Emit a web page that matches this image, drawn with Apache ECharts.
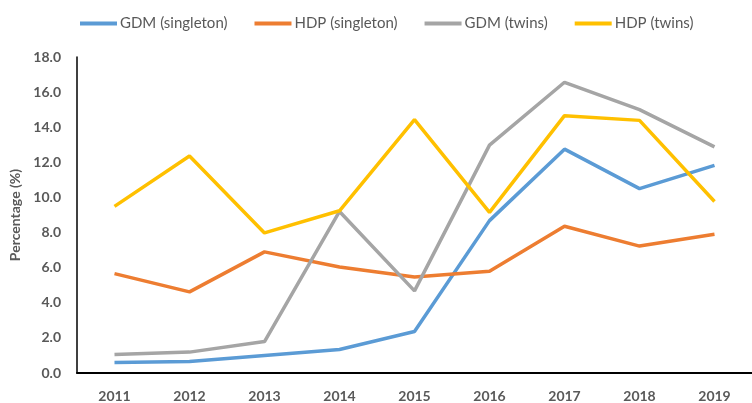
<!DOCTYPE html>
<html>
<head>
<meta charset="utf-8">
<script src="https://cdn.jsdelivr.net/npm/echarts@6/dist/echarts.min.js"></script>
<style>html,body{margin:0;padding:0;background:#fff}#c{width:752px;height:403px}</style>
</head>
<body>
<div id="c"></div>
<script>
var years = ['2011','2012','2013','2014','2015','2016','2017','2018','2019'];
var gdmSingleton = [0.6, 0.65, 1.0, 1.34, 2.36, 8.68, 12.75, 10.5, 11.83];
var hdpSingleton = [5.66, 4.62, 6.9, 6.04, 5.47, 5.8, 8.36, 7.23, 7.9];
var gdmTwins = [1.06, 1.19, 1.79, 9.2, 4.68, 12.98, 16.56, 15.0, 12.88];
var hdpTwins = [9.49, 12.36, 7.98, 9.24, 14.43, 9.15, 14.66, 14.39, 9.77];
var seriesNames = ['GDM (singleton)', 'HDP (singleton)', 'GDM (twins)', 'HDP (twins)'];
var colors = ['#5B9BD5', '#ED7D31', '#A5A5A5', '#FFC000'];
var dataSets = [gdmSingleton, hdpSingleton, gdmTwins, hdpTwins];

var chart = echarts.init(document.getElementById('c'));
var fontFam = 'Lato, "Open Sans", sans-serif';
chart.setOption({
  animation: false,
  color: colors,
  legend: {
    left: 75, top: 11,
    itemWidth: 37, itemHeight: 4, itemGap: 27,
    icon: 'rect',
    textStyle: { color: '#595959', fontSize: 15, fontFamily: fontFam, padding: [0,0,0,-2] },
    data: seriesNames
  },
  grid: { left: 77, right: -13, top: 57, bottom: 28 },
  xAxis: {
    type: 'category',
    data: years,
    boundaryGap: true,
    axisLine: { lineStyle: { color: '#000', width: 2 } },
    axisTick: { show: false },
    axisLabel: { color: '#595959', fontSize: 14, fontWeight: 'bold', fontFamily: fontFam, margin: 16 }
  },
  yAxis: {
    type: 'value',
    min: 0, max: 18, interval: 2,
    name: 'Percentage (%)',
    nameLocation: 'middle',
    nameGap: 55,
    nameTextStyle: { color: '#595959', fontSize: 14, fontWeight: 'bold', fontFamily: fontFam },
    axisLine: { show: true, lineStyle: { color: '#000', width: 1.5 } },
    axisTick: { show: false },
    splitLine: { show: false },
    axisLabel: { color: '#595959', fontSize: 14, fontWeight: 'bold', fontFamily: fontFam, margin: 16,
      formatter: function (v) { return v.toFixed(1); } }
  },
  series: dataSets.map(function (d, i) {
    return {
      name: seriesNames[i], type: 'line', data: d,
      symbol: 'none', lineStyle: { width: 3.5, color: colors[i] },
      itemStyle: { color: colors[i] }
    };
  })
});
</script>
</body>
</html>
